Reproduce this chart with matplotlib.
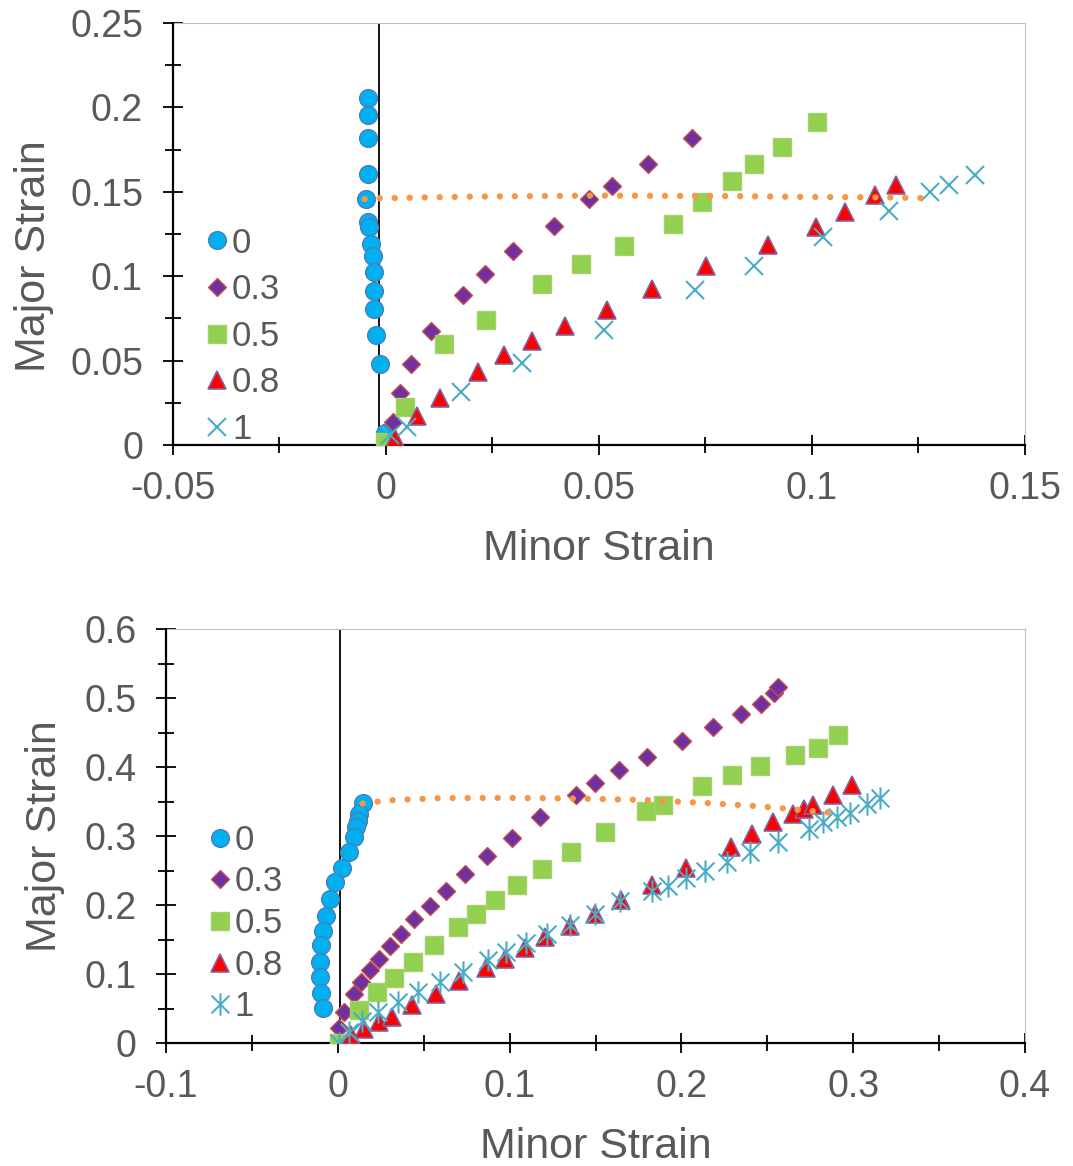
import matplotlib
matplotlib.use("Agg")
import matplotlib.pyplot as plt
from matplotlib.path import Path
import numpy as np

plt.rcParams['font.family'] = ['Liberation Sans', 'DejaVu Sans']

# ---------------- data: top chart ----------------
top_labels = ["0", "0.3", "0.5", "0.8", "1"]
top_x0 = [-0.0041, -0.0041, -0.0043, -0.0042, -0.0046, -0.0041, -0.0039, -0.0035, -0.0031,
          -0.0028, -0.0029, -0.0029, -0.0024, -0.0015, -0.0002]
top_y0 = [0.2059, 0.1955, 0.1822, 0.1606, 0.1458, 0.1320, 0.1290, 0.1192, 0.1119,
          0.1024, 0.0912, 0.0808, 0.0654, 0.0479, 0.0069]
top_x03 = [0.0016, 0.0032, 0.0059, 0.0106, 0.0182, 0.0233, 0.0298, 0.0394, 0.0476, 0.0531, 0.0614, 0.0719]
top_y03 = [0.0138, 0.0309, 0.0479, 0.0676, 0.0892, 0.1011, 0.1148, 0.1300, 0.1458, 0.1537, 0.1665, 0.1819]
top_x05 = [-0.0002, 0.0045, 0.0137, 0.0235, 0.0367, 0.0459, 0.0559, 0.0674, 0.0743, 0.0812, 0.0863, 0.0929, 0.1013]
top_y05 = [0.0020, 0.0223, 0.0597, 0.0743, 0.0952, 0.1074, 0.1178, 0.1310, 0.1438, 0.1562, 0.1665, 0.1763, 0.1915]
top_x08 = [0.0022, 0.0073, 0.0128, 0.0215, 0.0276, 0.0343, 0.0421, 0.0520, 0.0625, 0.0751, 0.0896, 0.1009, 0.1078, 0.1149, 0.1197]
top_y08 = [0.0040, 0.0173, 0.0276, 0.0433, 0.0536, 0.0617, 0.0703, 0.0802, 0.0926, 0.1060, 0.1188, 0.1290, 0.1383, 0.1483, 0.1543]
top_x1 = [0.0010, 0.0049, 0.0176, 0.0320, 0.0512, 0.0725, 0.0863, 0.1027, 0.1180, 0.1276, 0.1321, 0.1383]
top_y1 = [0.0059, 0.0108, 0.0315, 0.0486, 0.0680, 0.0916, 0.1060, 0.1231, 0.1389, 0.1497, 0.1543, 0.1602]
top_flc_x = [-0.0050, -0.0017, 0.0200, 0.0500, 0.0800, 0.1000, 0.1146, 0.1255]
top_flc_y = [0.1458, 0.1462, 0.1472, 0.1478, 0.1475, 0.1470, 0.1468, 0.1464]
top_vline = -0.0017

# ---------------- data: bottom chart ----------------
bot_x0 = [0.0145, 0.0126, 0.0116, 0.0107, 0.0093, 0.0064, 0.0023, -0.0014, -0.0043,
          -0.0068, -0.0084, -0.0096, -0.0103, -0.0103, -0.0097, -0.0086]
bot_y0 = [0.3474, 0.3321, 0.3224, 0.3127, 0.2993, 0.2766, 0.2540, 0.2332, 0.2092,
          0.1851, 0.1634, 0.1417, 0.1185, 0.0959, 0.0733, 0.0513]
bot_x03 = [0.0009, 0.0038, 0.0097, 0.0136, 0.0188, 0.0242, 0.0301, 0.0369, 0.0446, 0.0534,
           0.0627, 0.0742, 0.0868, 0.1013, 0.1175, 0.1389, 0.1499, 0.1637, 0.1797, 0.2001,
           0.2185, 0.2346, 0.2463, 0.2538, 0.2563]
bot_y03 = [0.0227, 0.0453, 0.0718, 0.0886, 0.1055, 0.1224, 0.1407, 0.1586, 0.1803, 0.1995,
           0.2212, 0.2453, 0.2718, 0.2974, 0.3272, 0.3600, 0.3769, 0.3957, 0.4149, 0.4380,
           0.4583, 0.4775, 0.4911, 0.5079, 0.5161]
bot_x05 = [0.0009, 0.0126, 0.0229, 0.0330, 0.0437, 0.0559, 0.0699, 0.0802, 0.0917, 0.1045,
           0.1188, 0.1359, 0.1554, 0.1793, 0.1893, 0.2117, 0.2292, 0.2457, 0.2659, 0.2797, 0.2913]
bot_y05 = [0.0010, 0.0477, 0.0742, 0.0950, 0.1176, 0.1427, 0.1681, 0.1875, 0.2082, 0.2289,
           0.2526, 0.2776, 0.3055, 0.3358, 0.3455, 0.3720, 0.3889, 0.4019, 0.4174, 0.4275, 0.4467]
bot_x08 = [0.0077, 0.0155, 0.0237, 0.0314, 0.0433, 0.0569, 0.0705, 0.0864, 0.0971, 0.1087,
           0.1204, 0.1350, 0.1495, 0.1647, 0.1826, 0.2026, 0.2288, 0.2412, 0.2534, 0.2651,
           0.2713, 0.2768, 0.2884, 0.2995]
bot_y08 = [0.0116, 0.0212, 0.0308, 0.0380, 0.0549, 0.0718, 0.0901, 0.1094, 0.1224, 0.1383,
           0.1537, 0.1696, 0.1875, 0.2077, 0.2294, 0.2540, 0.2848, 0.3032, 0.3200, 0.3321,
           0.3393, 0.3455, 0.3595, 0.3740]
bot_x1 = [0.0005, 0.0064, 0.0142, 0.0233, 0.0349, 0.0466, 0.0592, 0.0728, 0.0874, 0.0981,
          0.1097, 0.1217, 0.1350, 0.1495, 0.1645, 0.1826, 0.1923, 0.2026, 0.2136, 0.2263,
          0.2399, 0.2563, 0.2744, 0.2822, 0.2904, 0.2981, 0.3079, 0.3156]
bot_y1 = [0.0000, 0.0164, 0.0323, 0.0453, 0.0598, 0.0742, 0.0886, 0.1031, 0.1200, 0.1320,
          0.1450, 0.1581, 0.1716, 0.1875, 0.2067, 0.2212, 0.2284, 0.2390, 0.2501, 0.2621,
          0.2766, 0.2910, 0.3104, 0.3200, 0.3272, 0.3330, 0.3465, 0.3552]
bot_flc_x = [0.0145, 0.0300, 0.0600, 0.1000, 0.1400, 0.1800, 0.2146, 0.2409, 0.2577, 0.2748, 0.2919]
bot_flc_y = [0.3474, 0.3520, 0.3552, 0.3555, 0.3545, 0.3523, 0.3480, 0.3440, 0.3407, 0.3368, 0.3330]
bot_vline = 0.0015

top_xticks = [-0.05, 0, 0.05, 0.1, 0.15]
top_xticklabels = ["-0.05", "0", "0.05", "0.1", "0.15"]
top_yticks = [0, 0.05, 0.1, 0.15, 0.2, 0.25]
top_yticklabels = ["0", "0.05", "0.1", "0.15", "0.2", "0.25"]
bot_xticks = [-0.1, 0, 0.1, 0.2, 0.3, 0.4]
bot_xticklabels = ["-0.1", "0", "0.1", "0.2", "0.3", "0.4"]
bot_yticks = [0, 0.1, 0.2, 0.3, 0.4, 0.5, 0.6]
bot_yticklabels = ["0", "0.1", "0.2", "0.3", "0.4", "0.5", "0.6"]

# ---------------- styling ----------------
GRAY = '#595959'
asterisk = Path([(0, -1), (0, 1), (-0.8, -0.8), (0.8, 0.8), (-0.8, 0.8), (0.8, -0.8)],
                [Path.MOVETO, Path.LINETO, Path.MOVETO, Path.LINETO, Path.MOVETO, Path.LINETO])

styles = [
    dict(marker='o', ms=12.8, mfc='#00B0F0', mec='#4A7EBB', mew=1.0),
    dict(marker='D', ms=9.6, mfc='#7030A0', mec='#C0504D', mew=1.0),
    dict(marker='s', ms=13.2, mfc='#92D050', mec='#A6CF6E', mew=1.0),
    dict(marker='^', ms=13.2, mfc='#FF0000', mec='#8064A2', mew=1.2),
]

fig = plt.figure(figsize=(10.73, 11.66), dpi=100)
ax1 = fig.add_axes([0.1612, 0.6183, 0.7940, 0.3619])
ax2 = fig.add_axes([0.1547, 0.1052, 0.8006, 0.3553])


def draw(ax, xs, ys, last_marker, last_ms, flc_x, flc_y, vline,
         xlim, ylim, xticks, xtl, yticks, ytl, minor_x, minor_y,
         leg_anchor, leg_spacing):
    handles = []
    for (x, y), st, lab in zip(zip(xs[:4], ys[:4]), styles, top_labels):
        h, = ax.plot(x, y, linestyle='none', label=lab, zorder=3, **st)
        handles.append(h)
    h, = ax.plot(xs[4], ys[4], linestyle='none', marker=last_marker, ms=last_ms,
                 mec='#4BACC6', mfc='none', mew=1.5, label=top_labels[4], zorder=3)
    handles.append(h)
    ax.plot(flc_x, flc_y, color='#F79646', lw=4.6, linestyle=(0, (0.001, 2.35)),
            dash_capstyle='round', zorder=4)
    ax.axvline(vline, color='black', lw=1.3, zorder=2.5)
    ax.set_xlim(*xlim)
    ax.set_ylim(*ylim)
    ax.set_xticks(xticks)
    ax.set_xticklabels(xtl)
    ax.set_yticks(yticks)
    ax.set_yticklabels(ytl)
    ax.set_xticks(minor_x, minor=True)
    ax.set_yticks(minor_y, minor=True)
    ax.tick_params(which='major', direction='inout', length=15, width=1.3,
                   labelsize=27, labelcolor=GRAY)
    ax.tick_params(which='minor', direction='inout', length=12, width=1.3)
    ax.tick_params(axis='x', which='major', pad=11)
    ax.tick_params(axis='y', which='major', pad=14)
    for s in ['left', 'bottom']:
        ax.spines[s].set_linewidth(1.6)
        ax.spines[s].set_color('black')
        ax.spines[s].set_zorder(2.6)
    for s in ['top', 'right']:
        ax.spines[s].set_linewidth(0.8)
        ax.spines[s].set_color('#BFBFBF')
    ax.set_xlabel('Minor Strain', fontsize=31, color=GRAY)
    ax.set_ylabel('Major Strain', fontsize=31, color=GRAY)
    leg = ax.legend(handles=handles, loc='center left', bbox_to_anchor=leg_anchor,
                    frameon=False, fontsize=25, handlelength=0.6, handletextpad=0.12,
                    labelspacing=leg_spacing, borderpad=0, borderaxespad=0,
                    labelcolor=GRAY)
    return leg


draw(ax1, [top_x0, top_x03, top_x05, top_x08, top_x1],
     [top_y0, top_y03, top_y05, top_y08, top_y1], 'x', 12.5,
     top_flc_x, top_flc_y, top_vline,
     (-0.05, 0.15), (0, 0.25), top_xticks, top_xticklabels, top_yticks, top_yticklabels,
     np.arange(-0.05, 0.1501, 0.025), np.arange(0, 0.2501, 0.025),
     (0.040, 0.258), 0.39)

draw(ax2, [bot_x0, bot_x03, bot_x05, bot_x08, bot_x1],
     [bot_y0, bot_y03, bot_y05, bot_y08, bot_y1], asterisk, 16,
     bot_flc_x, bot_flc_y, bot_vline,
     (-0.1, 0.4), (0, 0.6), bot_xticks, bot_xticklabels, bot_yticks, bot_yticklabels,
     np.arange(-0.1, 0.4001, 0.05), np.arange(0, 0.6001, 0.05),
     (0.051, 0.289), 0.25)

ax1.xaxis.set_label_coords(0.5, -0.2)
ax1.yaxis.set_label_coords(-0.14, 0.448)
ax2.xaxis.set_label_coords(0.5, -0.203)
ax2.yaxis.set_label_coords(-0.117, 0.5)

fig.savefig('out.png', dpi=100)
